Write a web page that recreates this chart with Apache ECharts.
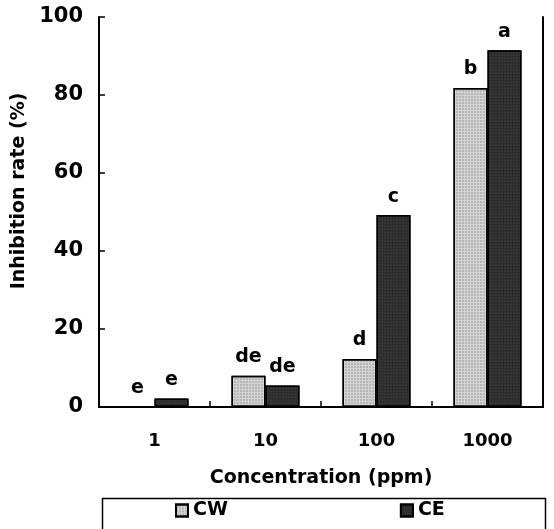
<!DOCTYPE html>
<html>
<head>
<meta charset="utf-8">
<script src="https://cdn.jsdelivr.net/npm/echarts@6/dist/echarts.min.js"></script>
<style>
  html, body { margin: 0; padding: 0; background: #fff; }
  #chart { width: 554px; height: 529px; }
</style>
</head>
<body>
<div id="chart"></div>
<script>
var categories = ['1', '10', '100', '1000'];
var cwValues = [0, 8, 12.3, 81.8];
var ceValues = [2.2, 5.5, 49.2, 91.5];
var cwLetters = ['e', 'de', 'd', 'b'];
var ceLetters = ['e', 'de', 'c', 'a'];
var yTicks = [0, 20, 40, 60, 80, 100];

var chart = echarts.init(document.getElementById('chart'));

var font = 'DejaVu Sans';

function withLetters(values, letters) {
    return values.map(function (v, i) {
        return { value: v, label: { formatter: letters[i] } };
    });
}

var frameX = {
    type: 'category', data: categories, position: 'top',
    axisLine: { lineStyle: { color: '#000', width: 2 } },
    axisTick: { show: false }, axisLabel: { show: false }
};
var frameY = {
    type: 'value', min: 0, max: 100, interval: 20, position: 'right',
    axisLine: { show: true, lineStyle: { color: '#000', width: 2 } },
    axisTick: { show: false }, axisLabel: { show: false }, splitLine: { show: false }
};

var option = {
    animation: false,
    grid: { left: 99, right: 11, top: 17, bottom: 122 },
    legend: {
        data: ['CW', 'CE'],
        left: 170,
        top: 496,
        itemGap: 172,
        itemWidth: 12,
        itemHeight: 12,
        icon: 'rect',
        textStyle: { fontFamily: font, fontWeight: 'bold', fontSize: 19, color: '#000' }
    },
    graphic: [{
        type: 'rect',
        left: 100,
        top: 496,
        shape: { width: 443, height: 40 },
        style: { fill: 'none', stroke: '#000', lineWidth: 1.5 }
    }],
    xAxis: [{
        type: 'category',
        data: categories,
        name: 'Concentration (ppm)',
        nameLocation: 'middle',
        nameGap: 62,
        nameTextStyle: { fontFamily: font, fontWeight: 'bold', fontSize: 19, color: '#000' },
        axisLine: { lineStyle: { color: '#000', width: 2 } },
        axisTick: { show: true, inside: true, length: 6, lineStyle: { color: '#000', width: 1.5 } },
        axisLabel: { fontFamily: font, fontWeight: 'bold', fontSize: 18, color: '#000', margin: 25 }
    }, frameX],
    yAxis: [{
        type: 'value',
        min: 0,
        max: 100,
        interval: 20,
        name: 'Inhibition rate (%)',
        nameLocation: 'middle',
        nameGap: 70,
        nameTextStyle: { fontFamily: font, fontWeight: 'bold', fontSize: 19, color: '#000', padding: [0, 0, 0, 42] },
        axisLine: { show: true, lineStyle: { color: '#000', width: 2 } },
        axisTick: { show: true, inside: true, length: 6, lineStyle: { color: '#000', width: 1.5 } },
        axisLabel: {
            fontFamily: font, fontWeight: 'bold', fontSize: 21, color: '#000', margin: 16,
            formatter: function (v) { return yTicks.indexOf(v) >= 0 ? v : ''; }
        },
        splitLine: { show: false }
    }, frameY],
    series: [
        {
            name: 'CW',
            type: 'bar',
            data: withLetters(cwValues, cwLetters),
            barWidth: 34,
            barGap: 0,
            itemStyle: {
                color: '#d4d4d4',
                borderColor: '#000',
                borderWidth: 1.5,
                decal: { symbol: 'circle', symbolSize: 0.7, color: 'rgba(60,60,60,0.55)', dashArrayX: [2, 1], dashArrayY: [2, 1], rotation: 0 }
            },
            label: {
                show: true, position: 'top', distance: 9,
                fontFamily: font, fontWeight: 'bold', fontSize: 19, color: '#000'
            }
        },
        {
            name: 'CE',
            type: 'bar',
            data: withLetters(ceValues, ceLetters),
            barWidth: 34,
            barGap: 0,
            itemStyle: {
                color: '#2c2c2c',
                borderColor: '#000',
                borderWidth: 1.5,
                decal: { symbol: 'circle', symbolSize: 0.6, color: 'rgba(140,140,140,0.5)', dashArrayX: [2, 1], dashArrayY: [2, 1], rotation: 0 }
            },
            label: {
                show: true, position: 'top', distance: 9,
                fontFamily: font, fontWeight: 'bold', fontSize: 19, color: '#000'
            }
        }
    ]
};

chart.setOption(option);
</script>
</body>
</html>
